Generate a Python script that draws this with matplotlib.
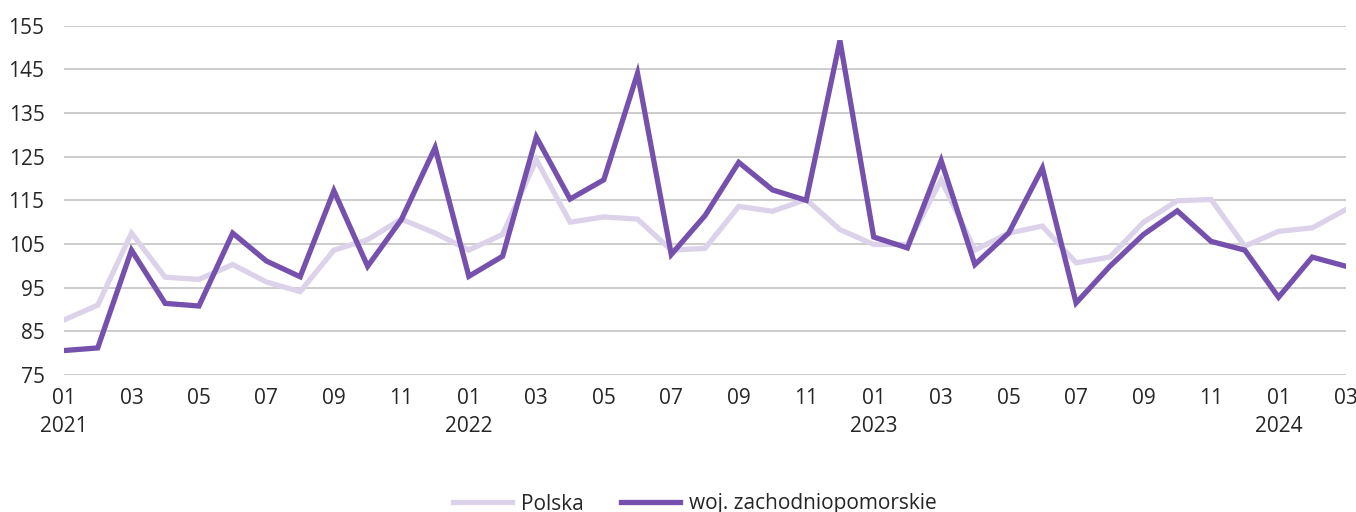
import matplotlib
matplotlib.use("Agg")
import matplotlib.pyplot as plt
from matplotlib.ticker import FixedLocator

plt.rcParams['font.family'] = ['Open Sans', 'DejaVu Sans']

months = ["2021-01", "2021-02", "2021-03", "2021-04", "2021-05", "2021-06", "2021-07", "2021-08", "2021-09", "2021-10", "2021-11", "2021-12",
          "2022-01", "2022-02", "2022-03", "2022-04", "2022-05", "2022-06", "2022-07", "2022-08", "2022-09", "2022-10", "2022-11", "2022-12",
          "2023-01", "2023-02", "2023-03", "2023-04", "2023-05", "2023-06", "2023-07", "2023-08", "2023-09", "2023-10", "2023-11", "2023-12",
          "2024-01", "2024-02", "2024-03"]

polska = [87.6, 91.0, 107.5, 97.4, 96.9, 100.3, 96.3, 94.1, 103.6, 106.0, 110.7, 107.5,
          103.6, 107.2, 124.3, 110.0, 111.2, 110.7, 103.6, 104.0, 113.6, 112.5, 115.2, 108.3,
          104.9, 104.9, 119.7, 103.6, 107.5, 109.1, 100.7, 102.0, 110.0, 114.9, 115.2, 104.5,
          107.9, 108.7, 112.9]

zachodniopomorskie = [80.6, 81.2, 103.6, 91.4, 90.8, 107.5, 101.1, 97.5, 117.2, 99.9, 110.6, 127.1,
                      97.6, 102.2, 129.5, 115.3, 119.7, 144.1, 102.6, 111.5, 123.7, 117.4, 115.0, 151.6,
                      106.6, 104.1, 124.1, 100.3, 107.5, 122.4, 91.5, 99.9, 107.2, 112.6, 105.6, 103.6,
                      92.8, 102.0, 99.9]

series_names = ["Polska", "woj. zachodniopomorskie"]
y_ticks = [75, 85, 95, 105, 115, 125, 135, 145, 155]

fig = plt.figure(figsize=(13.56, 5.12), dpi=100)
ax = fig.add_axes([64/1356, 1-375/512, (1346-64)/1356, (375-25.7)/512])

x = list(range(len(months)))
ax.plot(x, polska, color="#dcd3ea", lw=3.8, solid_joinstyle="miter", label=series_names[0], zorder=3)
ax.plot(x, zachodniopomorskie, color="#7550ad", lw=3.8, solid_joinstyle="miter", label=series_names[1], zorder=4)

ax.set_xlim(0, len(months) - 1)
ax.set_ylim(75, 155)
ax.yaxis.set_major_locator(FixedLocator(y_ticks))
ax.grid(axis="y", color="#c8c8c8", lw=1.3, zorder=0)
ax.set_axisbelow(True)

tick_pos = [i for i, m in enumerate(months) if int(m[5:]) % 2 == 1]
tick_lab = []
for i in tick_pos:
    m = months[i]
    lab = m[5:]
    if m[5:] == "01":
        lab += "\n" + m[:4]
    tick_lab.append(lab)
ax.set_xticks(tick_pos)
ax.set_xticklabels(tick_lab, fontsize=15, color="#262626", linespacing=1.45, va="top")
ax.tick_params(axis="y", labelsize=15, labelcolor="#262626", length=0, pad=14)
ax.tick_params(axis="x", length=0, pad=9)
for s in ax.spines.values():
    s.set_visible(False)

fig.legend(loc="center", bbox_to_anchor=(695/1356, 1-504/512), ncol=2, frameon=False,
           fontsize=15, handlelength=2.8, columnspacing=1.8, handletextpad=0.45,
           labelcolor="#262626")

fig.savefig("out.png", dpi=100)
